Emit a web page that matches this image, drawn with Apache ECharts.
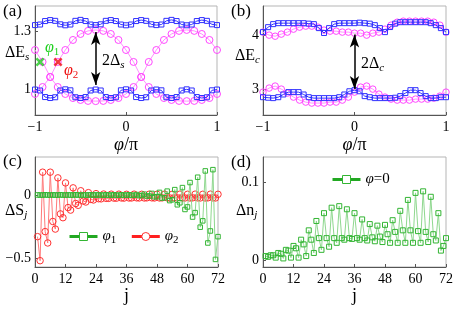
<!DOCTYPE html>
<html><head><meta charset="utf-8">
<script src="https://cdn.jsdelivr.net/npm/echarts@6/dist/echarts.min.js"></script>
<style>html,body{margin:0;padding:0;background:#fff}#c{width:457px;height:311px}</style>
</head><body><div id="c"></div>
<script>
// ---------- data ----------
const phi37 = [-1,-0.944,-0.889,-0.833,-0.778,-0.722,-0.667,-0.611,-0.556,-0.5,-0.444,-0.389,-0.333,-0.278,-0.222,-0.167,-0.111,-0.056,0,0.056,0.111,0.167,0.222,0.278,0.333,0.389,0.444,0.5,0.556,0.611,0.667,0.722,0.778,0.833,0.889,0.944,1];
const phi25 = [-1,-0.917,-0.833,-0.75,-0.667,-0.583,-0.5,-0.417,-0.333,-0.25,-0.167,-0.083,0,0.083,0.167,0.25,0.333,0.417,0.5,0.583,0.667,0.75,0.833,0.917,1];
const phi31 = [-1,-0.933,-0.867,-0.8,-0.733,-0.667,-0.6,-0.533,-0.467,-0.4,-0.333,-0.267,-0.2,-0.133,-0.067,0,0.067,0.133,0.2,0.267,0.333,0.4,0.467,0.533,0.6,0.667,0.733,0.8,0.867,0.933,1];

// (a) spin gap
const aBlueUp = [1.331,1.334,1.352,1.357,1.353,1.335,1.330,1.334,1.353,1.358,1.352,1.334,1.331,1.335,1.353,1.357,1.352,1.334,1.330,1.334,1.352,1.357,1.353,1.335,1.331,1.334,1.353,1.358,1.352,1.334,1.330,1.334,1.352,1.357,1.353,1.335,1.331];
const aBlueLo = [0.997,0.992,0.958,0.953,0.957,0.992,0.998,0.993,0.957,0.953,0.958,0.992,0.997,0.992,0.958,0.953,0.957,0.993,0.998,0.992,0.958,0.953,0.957,0.992,0.997,0.993,0.957,0.953,0.958,0.992,0.998,0.992,0.958,0.953,0.957,0.993,0.997];
const aMagA = [0.974,1.010,1.062,1.140,1.202,1.254,1.285,1.301,1.306,1.301,1.285,1.254,1.202,1.140,1.062,1.010,0.974,0.953,0.943,0.938,0.937,0.938,0.943,0.953,0.974];
const aMagB = [1.202,1.140,1.062,1.010,0.974,0.953,0.943,0.938,0.937,0.938,0.943,0.953,0.974,1.010,1.062,1.140,1.202,1.254,1.285,1.301,1.306,1.301,1.285,1.254,1.202];
const aCross = [[-0.945,1.14],[-0.747,1.14]];
const aArrow = [-0.333,1.295,1.02];

// (b) charge gap
const bBlueUp = [4.056,4.148,4.204,4.222,4.222,4.222,4.222,4.222,4.222,4.213,4.204,4.130,4.040,4.130,4.204,4.222,4.222,4.222,4.222,4.231,4.222,4.213,4.185,4.130,4.056,4.150,4.213,4.240,4.240,4.240,4.240,4.240,4.240,4.222,4.185,4.130,4.056];
const bBlueLo = [2.850,2.840,2.833,2.850,2.900,2.944,2.944,2.944,2.900,2.850,2.833,2.833,2.833,2.833,2.833,2.850,2.900,2.960,2.980,2.960,2.870,2.850,2.833,2.833,2.833,2.833,2.840,2.870,2.926,2.980,2.980,2.926,2.870,2.833,2.833,2.850,2.850];
const bMagUp = [4.056,4.000,3.980,4.019,4.056,4.111,4.148,4.167,4.167,4.148,4.093,4.074,4.074,4.056,4.056,4.037,4.037,4.000,4.037,4.056,4.111,4.185,4.240,4.259,4.259,4.259,4.259,4.259,4.240,4.185,4.056];
const bMagLo = [2.944,3.019,3.056,3.000,2.926,2.852,2.796,2.759,2.741,2.741,2.741,2.759,2.759,2.796,2.852,2.944,3.037,3.056,3.000,2.907,2.852,2.815,2.796,2.796,2.796,2.815,2.815,2.815,2.833,2.870,2.944];
const bArrow = [0,4.01,3.0];

// (c) spin density difference, j = 1..72
const cPhi1 = [0.000,-0.001,-0.001,0.001,-0.001,-0.001,0.000,-0.001,-0.001,0.001,-0.001,-0.001,0.000,-0.001,-0.001,0.001,-0.001,-0.001,0.000,-0.001,-0.001,0.001,-0.001,-0.001,0.000,-0.001,-0.002,0.001,-0.002,-0.002,0.001,-0.002,-0.002,0.001,-0.002,-0.002,
  0.001,-0.003,-0.003,0.003,-0.005,-0.005,0.006,-0.009,-0.009,0.012,-0.015,-0.014,0.020,-0.025,-0.022,0.030,-0.045,-0.038,0.042,-0.078,-0.062,0.058,-0.115,-0.095,0.098,-0.175,-0.140,0.140,-0.255,-0.205,0.190,-0.380,-0.285,0.200,-0.510,-0.330];
const cPhi2 = [-0.330,-0.520,0.180,-0.290,-0.380,0.180,-0.210,-0.270,0.135,-0.150,-0.180,0.095,-0.100,-0.120,0.056,-0.068,-0.082,0.033,-0.048,-0.056,0.018,-0.036,-0.040,0.010,-0.030,-0.031,0.007,-0.027,-0.027,0.006,-0.025,-0.026,0.006,-0.024,-0.025,0.005,
  -0.024,-0.024,0.006,-0.023,-0.024,0.005,-0.024,-0.023,0.006,-0.023,-0.024,0.005,-0.024,-0.023,0.006,-0.023,-0.024,0.005,-0.024,-0.023,0.006,-0.023,-0.024,0.005,-0.024,-0.023,0.006,-0.023,-0.024,0.005,-0.024,-0.023,0.006,-0.023,-0.024,0.005];

// (d) charge density difference, j = 1..72
const dPhi0 = [0.005,0.004,0.006,0.006,0.003,0.009,0.008,0.002,0.013,0.012,0.003,0.018,0.015,0.003,0.026,0.020,0.005,0.038,0.026,0.009,0.050,0.028,0.013,0.060,0.028,0.017,0.067,0.028,0.022,0.069,0.028,0.026,0.065,0.028,0.027,0.060,
  0.028,0.026,0.052,0.028,0.025,0.046,0.029,0.024,0.044,0.030,0.023,0.045,0.033,0.022,0.051,0.036,0.022,0.063,0.038,0.022,0.077,0.038,0.022,0.086,0.037,0.022,0.088,0.036,0.023,0.081,0.033,0.025,0.060,0.012,0.018,0.028];

const yTicksA = [1, 1.3], yTicksB = [3, 4], yTicksC = [-0.5, 0], yTicksD = [0, 0.1];

// ---------- style ----------
const F = 'Liberation Serif';
const BLUE = '#3030ff', MAG = '#ff48ff', MAGL = '#ff90ff';
const GREEN = '#33b533', GREENL = '#8fd88f', RED = '#ff3030', REDL = '#ff7a7a';
const AX = '#555', BOX = '#b5b5b5';
const fmt = v => (v < 0 ? '\u2212' : '') + Math.abs(v);

const grids = [
  {left: 35, top: 6, width: 182, height: 109},
  {left: 263, top: 6, width: 183, height: 109},
  {left: 35, top: 157, width: 183, height: 110},
  {left: 263, top: 157, width: 183, height: 110}
].map(g => Object.assign(g, {show: true, borderColor: BOX, borderWidth: 1, backgroundColor: 'transparent'}));

const nameRich = {
  i: {fontFamily: F, fontSize: 18, fontStyle: 'italic', color: '#000'},
  n: {fontFamily: F, fontSize: 18, color: '#000'}
};
function xAx(gi, min, max, interval, name, gap) {
  return {type: 'value', gridIndex: gi, min, max, interval,
    axisLine: {onZero: false, lineStyle: {color: AX, width: 1}},
    axisTick: {inside: true, length: 3, lineStyle: {color: AX}},
    axisLabel: {fontFamily: F, fontSize: 14, color: '#000', margin: 5, formatter: fmt},
    splitLine: {show: false},
    name, nameLocation: 'middle', nameGap: gap,
    nameTextStyle: {fontFamily: F, fontSize: 18, color: '#000', rich: nameRich}};
}
function yAx(gi, min, max, ticks) {
  return {type: 'value', gridIndex: gi, min, max,
    axisLine: {show: true, onZero: false, lineStyle: {color: AX, width: 1}},
    axisTick: {show: true, inside: true, length: 3, lineStyle: {color: AX}, customValues: ticks},
    axisLabel: {fontFamily: F, fontSize: 14, color: '#000', margin: 4, formatter: fmt, customValues: ticks},
    splitLine: {show: false}};
}
function ls(name, gi, xs, ys, sym, size, col, lcol, z) {
  return {type: 'line', name, xAxisIndex: gi, yAxisIndex: gi,
    data: ys.map((y, i) => [xs[i], y]),
    symbol: sym, symbolSize: size, showAllSymbol: true,
    itemStyle: {color: 'rgba(255,255,255,0)', borderColor: col, borderWidth: 1},
    lineStyle: {color: lcol, width: 1},
    emphasis: {disabled: true}, z, animation: false};
}
const jIdx = ys => ys.map((_, i) => i + 1);
const arrowLine = (p) => ({silent: true, symbol: ['arrow', 'arrow'], symbolSize: [7, 13],
  label: {show: false}, emphasis: {disabled: true}, animation: false,
  lineStyle: {color: '#000', width: 1.5, type: 'solid'},
  data: [[{coord: [p[0], p[1]]}, {coord: [p[0], p[2]]}]]});
const crossPath = 'path://M0,2L2,0L5,3L8,0L10,2L7,5L10,8L8,10L5,7L2,10L0,8L3,5Z';

const series = [
  ls('aMagA', 0, phi25, aMagA, 'circle', 7, MAG, MAGL, 2),
  ls('aMagB', 0, phi25, aMagB, 'circle', 7, MAG, MAGL, 2),
  Object.assign(ls('aBlueUp', 0, phi37, aBlueUp, 'rect', 5, BLUE, BLUE, 3), {markLine: arrowLine(aArrow)}),
  ls('aBlueLo', 0, phi37, aBlueLo, 'rect', 5, BLUE, BLUE, 3),
  {type: 'scatter', xAxisIndex: 0, yAxisIndex: 0, data: [aCross[0]], symbol: crossPath, symbolSize: 9, itemStyle: {color: '#1fd01f'}, z: 5, animation: false},
  {type: 'scatter', xAxisIndex: 0, yAxisIndex: 0, data: [aCross[1]], symbol: crossPath, symbolSize: 9, itemStyle: {color: '#ee1111'}, z: 5, animation: false},
  ls('bMagUp', 1, phi31, bMagUp, 'circle', 6.5, MAG, MAGL, 2),
  ls('bMagLo', 1, phi31, bMagLo, 'circle', 6.5, MAG, MAGL, 2),
  Object.assign(ls('bBlueUp', 1, phi37, bBlueUp, 'rect', 5, BLUE, BLUE, 3), {markLine: arrowLine(bArrow)}),
  ls('bBlueLo', 1, phi37, bBlueLo, 'rect', 5, BLUE, BLUE, 3),
  ls('φ1', 2, jIdx(cPhi1), cPhi1, 'rect', 4.5, GREEN, GREENL, 3),
  ls('φ2', 2, jIdx(cPhi2), cPhi2, 'circle', 6.5, RED, REDL, 2),
  ls('φ=0', 3, jIdx(dPhi0), dPhi0, 'rect', 5, GREEN, GREENL, 3)
];

const legRich = {
  i: {fontFamily: F, fontSize: 15, fontStyle: 'italic', color: '#000'},
  s: {fontFamily: F, fontSize: 11, color: '#000', padding: [7, 0, 0, 0]},
  n: {fontFamily: F, fontSize: 15, color: '#000'}
};
const legFmt = name => name === 'φ=0' ? '{i|φ}{n|=0}' : '{i|φ}{s|' + name.slice(1) + '}';

function txt(left, top, text, rich, extra) {
  return {type: 'text', left, top, silent: true, z: 20,
    style: Object.assign({text, fill: '#000', font: '16px "Liberation Serif"', rich}, extra || {})};
}
const labRich = {
  m: {fontFamily: F, fontSize: 16, fill: '#000'},
  s: {fontFamily: F, fontSize: 11, fontStyle: 'italic', fill: '#000', padding: [8, 0, 0, 0]}
};
const subRichC = (c) => ({
  i: {fontFamily: F, fontSize: 16, fontStyle: 'italic', fill: c},
  s: {fontFamily: F, fontSize: 11, fill: c, padding: [8, 0, 0, 0]}
});

const option = {
  backgroundColor: '#fff',
  animation: false,
  grid: grids,
  xAxis: [
    xAx(0, -1, 1, 1, '{i|φ}{n|/π}', 21),
    xAx(1, -1, 1, 1, '{i|φ}{n|/π}', 21),
    xAx(2, 0, 72, 12, '{n|j}', 19),
    xAx(3, 0, 72, 12, '{n|j}', 19)
  ],
  yAxis: [
    yAx(0, 0.865, 1.43, yTicksA),
    yAx(1, 2.52, 4.54, yTicksB),
    yAx(2, -0.57, 0.30, yTicksC),
    yAx(3, -0.009, 0.132, yTicksD)
  ],
  legend: [
    {left: 63, top: 224, itemWidth: 28, itemHeight: 10, itemGap: 14, formatter: legFmt,
      textStyle: {rich: legRich}, selectedMode: false,
      data: [{name: 'φ1', lineStyle: {color: '#22a822', width: 3}, itemStyle: {color: '#fff', borderColor: GREEN, borderWidth: 1}},
             {name: 'φ2', lineStyle: {color: '#ff2020', width: 3}, itemStyle: {color: '#fff', borderColor: RED, borderWidth: 1}}]},
    {left: 326, top: 167, itemWidth: 28, itemHeight: 10, formatter: legFmt,
      textStyle: {rich: legRich}, selectedMode: false,
      data: [{name: 'φ=0', lineStyle: {color: '#22a822', width: 3}, itemStyle: {color: '#fff', borderColor: GREEN, borderWidth: 1}}]}
  ],
  graphic: [
    txt(3, 3, '(a)', null, {font: '17px "Liberation Serif"'}),
    txt(231, 3, '(b)', null, {font: '17px "Liberation Serif"'}),
    txt(3, 153, '(c)', null, {font: '17px "Liberation Serif"'}),
    txt(231, 154, '(d)', null, {font: '17px "Liberation Serif"'}),
    txt(5, 45, '{m|ΔE}{s|s}', labRich),
    txt(235, 48, '{m|ΔE}{s|c}', labRich),
    txt(5, 203, '{m|ΔS}{s|j}', labRich),
    txt(236, 203, '{m|Δn}{s|j}', labRich),
    txt(102, 53, '{m|2Δ}{s|s}', labRich),
    txt(361, 56, '{m|2Δ}{s|c}', labRich),
    txt(45, 40, '{i|φ}{s|1}', subRichC('#1fd01f')),
    txt(64, 63, '{i|φ}{s|2}', subRichC('#ee1111'))
  ],
  series
};
const chart = echarts.init(document.getElementById('c'), null, {renderer: 'canvas'});
chart.setOption(option);
</script></body></html>
